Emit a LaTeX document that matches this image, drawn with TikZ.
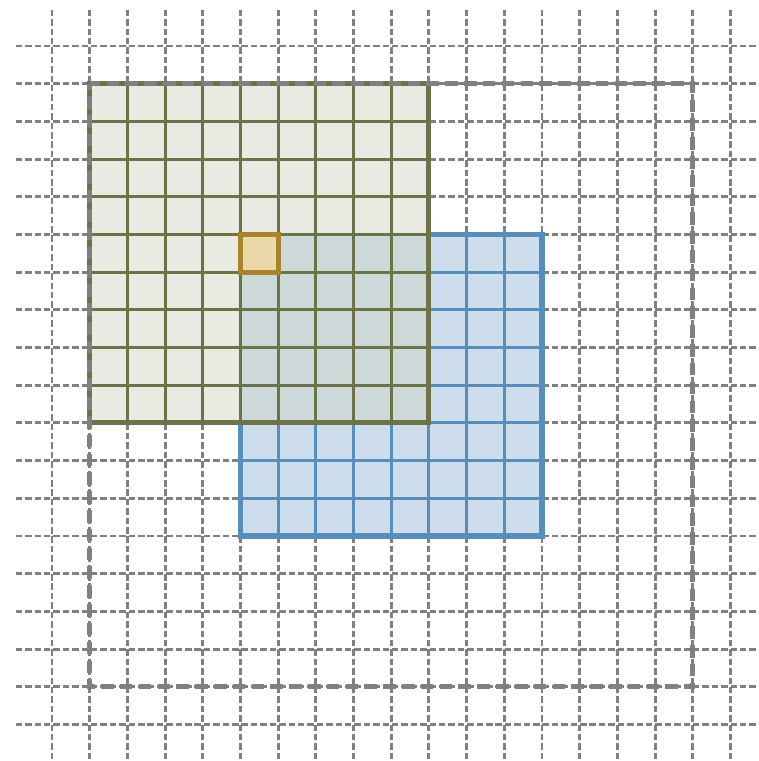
\documentclass[tikz,border=0pt]{standalone}
\definecolor{gridgray}{RGB}{128,128,128}
\definecolor{oliveline}{RGB}{107,116,72}
\definecolor{greenfillc}{RGB}{233,235,227}
\definecolor{overlapc}{RGB}{205,216,216}
\definecolor{blueline}{RGB}{88,142,189}
\definecolor{bluefillc}{RGB}{206,221,235}
\definecolor{orangeline}{RGB}{168,131,42}
\definecolor{orangefillc}{RGB}{236,215,168}
\tikzset{
  bggrid/.style={draw=gridgray, line width=2.2pt, dash pattern=on 4.9pt off 2.2pt, dash phase=6pt},
  outerdash/.style={draw=gridgray, line width=3.8pt, dash pattern=on 9.5pt off 4.7pt, dash phase=4.75pt},
  bluegrid/.style={draw=blueline, line width=2.3pt},
  blueborder/.style={draw=blueline, line width=3.8pt},
  greengrid/.style={draw=oliveline, line width=2.3pt},
  greenborder/.style={draw=oliveline, line width=3.8pt},
  orangecell/.style={draw=orangeline, fill=orangefillc, line width=3.8pt}
}
\begin{document}
\begin{tikzpicture}[x=1cm,y=-1cm]
\useasboundingbox (-0.379,-0.22) rectangle (19.75,19.97);
\clip (-0.379,-0.22) rectangle (19.75,19.97);
% background dashed grid
\foreach \i in {1,...,19} {
  \draw[bggrid] (\i,0) -- (\i,20.5);
  \draw[bggrid] (0,\i) -- (20.5,\i);
}
% blue square
\fill[bluefillc] (6,6) rectangle (14,14);
\draw[bluegrid] (6,6) grid (14,14);
\draw[blueborder] (6,6) rectangle (14,14);
% green square
\fill[greenfillc] (2,2) rectangle (11,11);
\fill[overlapc] (6,6) rectangle (11,11);
\draw[greengrid] (2,2) grid (11,11);
\draw[greenborder] (2,2) rectangle (11,11);
% orange cell
\draw[orangecell] (6,6) rectangle (7,7);
% outer dashed rectangle
\draw[outerdash] (2,2) rectangle (18,18);
\end{tikzpicture}
\end{document}
